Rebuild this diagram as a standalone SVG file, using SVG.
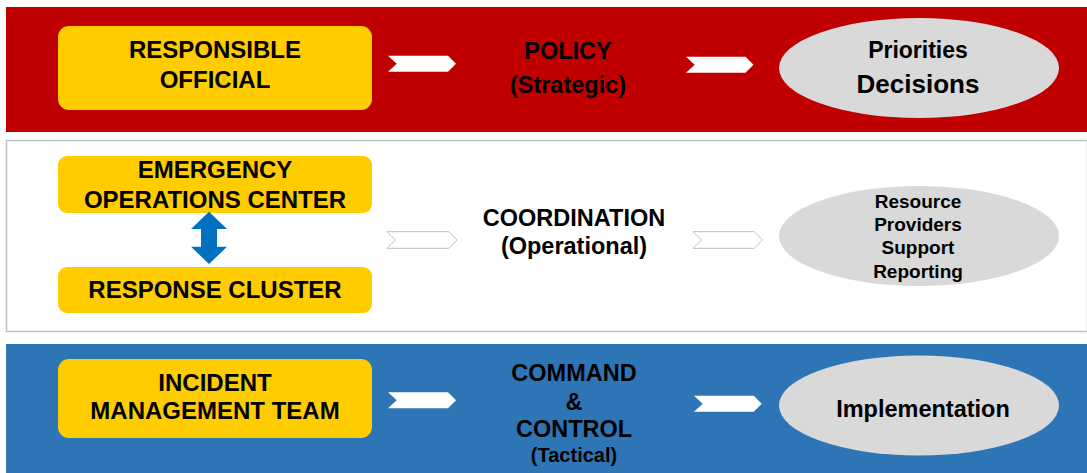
<svg xmlns="http://www.w3.org/2000/svg" width="1087" height="473" viewBox="0 0 1087 473">
<style>
text{font-family:"Liberation Sans",Arial,sans-serif;font-weight:bold;fill:#000;text-anchor:middle}
.box{fill:#ffcc00}
.ell{fill:#d9d9d9}
.chev{fill:#fff}
.chevo{fill:#fff;stroke:#bfbfbf;stroke-width:1}
.t24{font-size:24px}
.t23{font-size:23.5px}
</style>
<g id="bands">
<rect x="6" y="7" width="1081" height="125" fill="#c00000"/>
<rect x="6.5" y="140.5" width="1081" height="191" fill="#fff" stroke="#bfbfbf" stroke-width="1.5"/>
<rect x="6" y="344" width="1081" height="129" fill="#2e75b6"/>
</g>
<g id="responsible-official">
<rect class="box" x="58" y="26" width="314" height="84" rx="11"/>
<text class="t24" x="215" y="58">RESPONSIBLE</text>
<text class="t24" x="215" y="88">OFFICIAL</text>
</g>
<g id="policy">
<text class="t23" x="568" y="59">POLICY</text>
<text class="t23" x="568" y="93">(Strategic)</text>
</g>
<g id="priorities">
<ellipse class="ell" cx="919" cy="68" rx="140" ry="50"/>
<text x="918" y="58" style="font-size:23px">Priorities</text>
<text x="918" y="93" style="font-size:26px">Decisions</text>
</g>
<g id="eoc">
<rect class="box" x="58" y="156" width="314" height="57" rx="9"/>
<text class="t24" x="215" y="178">EMERGENCY</text>
<text class="t24" x="215" y="207.5">OPERATIONS CENTER</text>
</g>
<g id="response-cluster">
<rect class="box" x="58" y="267" width="314" height="46" rx="9"/>
<text class="t24" x="215" y="298">RESPONSE CLUSTER</text>
</g>
<g id="coordination">
<text class="t23" x="574" y="226">COORDINATION</text>
<text class="t23" x="574" y="254">(Operational)</text>
</g>
<g id="resources">
<ellipse class="ell" cx="919" cy="236" rx="140" ry="50"/>
<text x="918" y="208" style="font-size:19px">Resource</text>
<text x="918" y="231" style="font-size:19px">Providers</text>
<text x="918" y="254" style="font-size:19px">Support</text>
<text x="918" y="277.5" style="font-size:19px">Reporting</text>
</g>
<g id="imt">
<rect class="box" x="58" y="359" width="314" height="79" rx="11"/>
<text class="t24" x="215" y="391">INCIDENT</text>
<text class="t24" x="215" y="419">MANAGEMENT TEAM</text>
</g>
<g id="command">
<text class="t23" x="574" y="381">COMMAND</text>
<text class="t23" x="574" y="410">&amp;</text>
<text class="t23" x="574" y="437">CONTROL</text>
<text x="574" y="461.5" style="font-size:20px">(Tactical)</text>
</g>
<g id="implementation">
<ellipse class="ell" cx="919" cy="405.5" rx="140" ry="50"/>
<text class="t23" x="923" y="416.5">Implementation</text>
</g>
<g id="connectors">
<polygon class="chev" points="388,55.7 448,55.7 456,63.7 448,71.7 388,71.7 396.7,63.7"/>
<polygon class="chev" points="686,56.7 745.5,56.7 753.5,64.7 745.5,72.7 686,72.7 694.7,64.7"/>
<polygon class="chevo" points="387,231.7 449,231.7 457,240 449,248.3 387,248.3 395.5,240"/>
<polygon class="chevo" points="693,231.7 754.5,231.7 762.5,240 754.5,248.3 693,248.3 701.5,240"/>
<polygon class="chev" points="388,392.3 448,392.3 456,400.3 448,408.3 388,408.3 396.7,400.3"/>
<polygon class="chev" points="694,395.7 753.7,395.7 761.7,403.7 753.7,411.7 694,411.7 702.7,403.7"/>
<polygon fill="#0070c0" points="209,211.7 227,229 217,229 217,246.7 227,246.7 209,264 191,246.7 201,246.7 201,229 191,229"/>
</g>
</svg>
